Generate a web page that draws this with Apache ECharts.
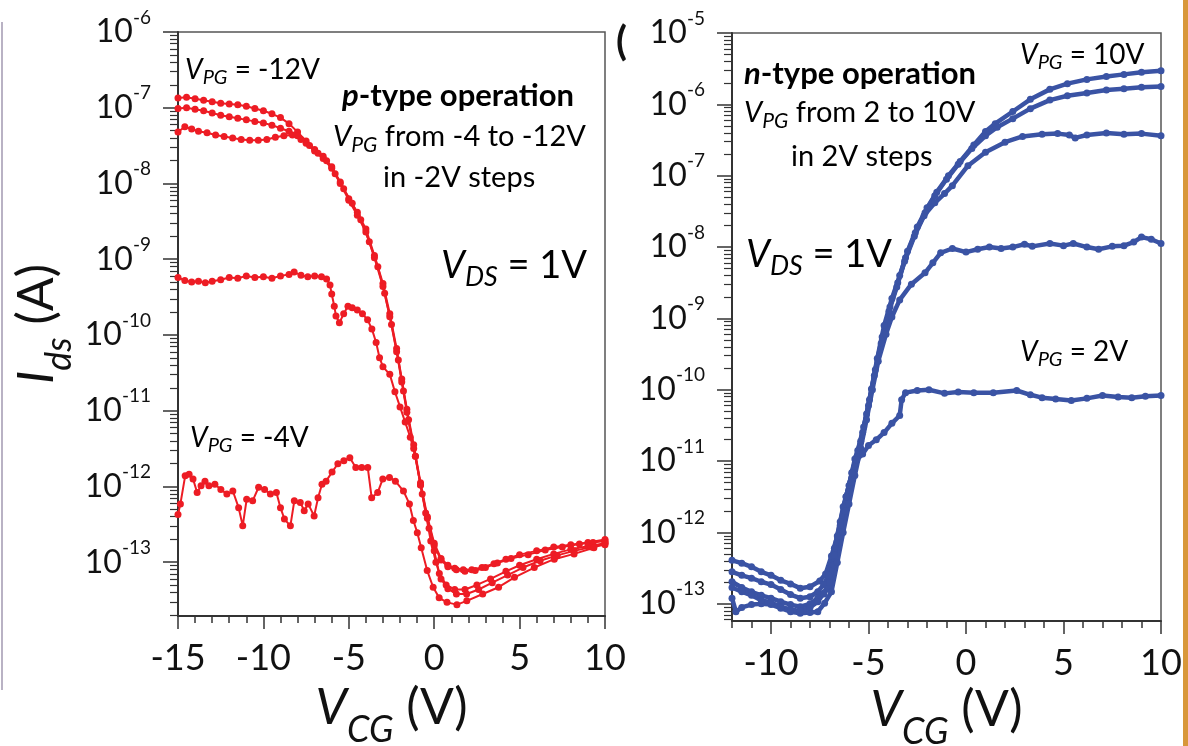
<!DOCTYPE html>
<html>
<head>
<meta charset="utf-8">
<title>Ids vs VCG</title>
<script src="https://cdn.jsdelivr.net/npm/echarts@6/dist/echarts.min.js"></script>
<style>
    html, body { margin: 0; padding: 0; background: #fff; }
    #chart { width: 1188px; height: 746px; }
</style>
</head>
<body>
<div id="chart"></div>
<script>
// each point: [V_CG (V), log10(Ids / A)]

// p-type panel, V_PG = -12 ... -4 V
const pVpgM12 = [[-15,-6.87],[-14.5,-6.86],[-14,-6.88],[-13.5,-6.9],[-13,-6.92],[-12.5,-6.94],[-12,-6.95],[-11.5,-6.96],[-11,-6.98],[-10.5,-7.01],[-10,-7.04],[-9.5,-7.08],[-9,-7.13],[-8.5,-7.21],[-8,-7.32],[-7.5,-7.44],[-7,-7.55],[-6.5,-7.64],[-6,-7.78],[-5.5,-7.98],[-5,-8.2],[-4.5,-8.38],[-4,-8.6],[-3.5,-8.95],[-3,-9.32],[-2.6,-9.72],[-2.2,-10.18],[-1.9,-10.58],[-1.6,-10.98],[-1.2,-11.45],[-0.8,-11.95],[-0.4,-12.4],[0,-12.75],[0.4,-12.95],[0.8,-13.04],[1.2,-13.08],[1.7,-13.1],[2.2,-13.1],[2.8,-13.07],[3.5,-13.02],[4.2,-12.96],[5,-12.9],[6,-12.85],[7,-12.8],[8,-12.77],[9,-12.74],[10,-12.7]]
const pVpgM10 = [[-15,-7.01],[-14.5,-7],[-14,-7.02],[-13.5,-7.04],[-13,-7.07],[-12.5,-7.1],[-12,-7.12],[-11.5,-7.14],[-11,-7.16],[-10.5,-7.18],[-10,-7.2],[-9.5,-7.23],[-9,-7.27],[-8.5,-7.31],[-8,-7.37],[-7.5,-7.47],[-7,-7.57],[-6.5,-7.67],[-6,-7.8],[-5.5,-8],[-5,-8.22],[-4.5,-8.42],[-4,-8.64],[-3.5,-8.98],[-3,-9.36],[-2.6,-9.76],[-2.2,-10.22],[-1.9,-10.62],[-1.6,-11.02],[-1.2,-11.5],[-0.8,-11.98],[-0.4,-12.42],[0,-12.78],[0.4,-12.97],[0.8,-13.06],[1.3,-13.1],[1.8,-13.12],[2.4,-13.11],[3,-13.07],[3.7,-13.01],[4.5,-12.95],[5.5,-12.9],[6.5,-12.84],[7.5,-12.8],[8.5,-12.76],[9.3,-12.74],[10,-12.72]]
const pVpgM8 = [[-15,-7.32],[-14.6,-7.25],[-14.2,-7.28],[-13.8,-7.31],[-13.3,-7.33],[-12.8,-7.36],[-12.3,-7.38],[-11.8,-7.4],[-11.3,-7.42],[-10.8,-7.43],[-10.3,-7.43],[-9.8,-7.42],[-9.3,-7.39],[-8.8,-7.37],[-8.3,-7.36],[-7.8,-7.42],[-7.3,-7.5],[-6.8,-7.6],[-6.3,-7.7],[-5.8,-7.87],[-5.3,-8.07],[-4.8,-8.26],[-4.3,-8.48],[-3.8,-8.77],[-3.3,-9.1],[-2.9,-9.45],[-2.5,-9.86],[-2.1,-10.33],[-1.8,-10.74],[-1.5,-11.12],[-1.1,-11.6],[-0.7,-12.1],[-0.3,-12.55],[0,-12.85],[0.3,-13.15],[0.7,-13.3],[1.2,-13.36],[1.8,-13.36],[2.5,-13.3],[3.3,-13.22],[4.2,-13.12],[5,-13.04],[6,-12.96],[7,-12.89],[8,-12.83],[9,-12.79],[10,-12.75]]
const pVpgM6 = [[-15,-9.24],[-14.6,-9.28],[-14.2,-9.3],[-13.8,-9.29],[-13.4,-9.31],[-13,-9.29],[-12.5,-9.27],[-12,-9.24],[-11.5,-9.25],[-11,-9.22],[-10.5,-9.24],[-10,-9.23],[-9.5,-9.25],[-9,-9.22],[-8.5,-9.2],[-8.2,-9.17],[-7.8,-9.21],[-7.4,-9.23],[-7,-9.22],[-6.6,-9.23],[-6.3,-9.26],[-6.1,-9.34],[-6,-9.46],[-5.85,-9.62],[-5.75,-9.75],[-5.55,-9.84],[-5.3,-9.72],[-5.05,-9.62],[-4.8,-9.64],[-4.5,-9.67],[-4.2,-9.72],[-3.9,-9.8],[-3.65,-9.92],[-3.4,-10.1],[-3.2,-10.3],[-3,-10.42],[-2.6,-10.52],[-2.3,-10.75],[-2,-10.95],[-1.7,-11.15],[-1.4,-11.35],[-1.1,-11.6],[-0.8,-11.98],[-0.5,-12.35],[-0.2,-12.72],[0.1,-13],[0.4,-13.22],[0.8,-13.35],[1.3,-13.42],[1.9,-13.42],[2.6,-13.36],[3.4,-13.27],[4.3,-13.17],[5.2,-13.07],[6.2,-12.98],[7.2,-12.91],[8.2,-12.85],[9.2,-12.8],[10,-12.77]]
const pVpgM4 = [[-15,-12.37],[-14.86,-12.23],[-14.58,-11.86],[-14.35,-11.84],[-14.12,-11.9],[-13.88,-12.08],[-13.65,-11.99],[-13.42,-11.93],[-13.19,-11.99],[-12.84,-11.97],[-12.49,-12.04],[-12.14,-12.1],[-11.79,-12.06],[-11.45,-12.28],[-11.21,-12.52],[-10.98,-12.17],[-10.63,-12.19],[-10.28,-12.01],[-9.93,-12.04],[-9.59,-12.1],[-9.24,-12.08],[-9,-12.28],[-8.77,-12.43],[-8.42,-12.52],[-8.19,-12.19],[-7.84,-12.21],[-7.61,-12.32],[-7.38,-12.23],[-7.03,-12.39],[-6.8,-12.15],[-6.57,-11.97],[-6.33,-11.93],[-5.98,-11.81],[-5.64,-11.7],[-5.29,-11.66],[-4.94,-11.62],[-4.59,-11.75],[-4.24,-11.75],[-3.89,-11.75],[-3.66,-12.15],[-3.31,-12.08],[-3.01,-11.9],[-2.62,-11.88],[-2.27,-11.93],[-1.8,-12.06],[-1.45,-12.23],[-1.22,-12.45],[-0.99,-12.61],[-0.76,-12.81],[-0.41,-13.11],[-0.06,-13.33],[0.29,-13.47],[0.75,-13.53],[1.33,-13.56],[1.91,-13.51],[2.84,-13.42],[3.77,-13.33],[4.7,-13.2],[5.86,-13.07],[7.03,-12.96],[8.19,-12.89],[9.35,-12.81],[10,-12.74]]

// n-type panel, V_PG = 10 ... 2 V
const nVpg10 = [[-12,-12.39],[-11.5,-12.43],[-11,-12.48],[-10.5,-12.55],[-10,-12.6],[-9.5,-12.67],[-9,-12.72],[-8.5,-12.78],[-8,-12.76],[-7.5,-12.68],[-7.2,-12.58],[-6.9,-12.33],[-6.6,-12.05],[-6.3,-11.64],[-6,-11.34],[-5.7,-10.97],[-5.4,-10.72],[-5.1,-10.34],[-4.85,-9.99],[-4.55,-9.56],[-4.2,-9.1],[-3.8,-8.72],[-3.4,-8.4],[-3,-8.06],[-2.5,-7.72],[-2,-7.45],[-1.5,-7.23],[-0.9,-7],[-0.3,-6.8],[0.4,-6.57],[1,-6.38],[1.5,-6.27],[2.4,-6.1],[3.3,-5.93],[4.3,-5.79],[5.2,-5.71],[6.2,-5.65],[7.2,-5.61],[8.1,-5.58],[9,-5.55],[10,-5.53]]
const nVpg8 = [[-12,-12.55],[-11.5,-12.6],[-11,-12.64],[-10.5,-12.69],[-10,-12.73],[-9.5,-12.8],[-9,-12.87],[-8.5,-12.92],[-8,-12.9],[-7.6,-12.83],[-7.3,-12.73],[-7.05,-12.6],[-6.75,-12.22],[-6.45,-11.85],[-6.15,-11.5],[-5.85,-11.16],[-5.55,-10.85],[-5.25,-10.52],[-4.95,-10.14],[-4.65,-9.72],[-4.3,-9.26],[-3.9,-8.84],[-3.5,-8.5],[-3.1,-8.15],[-2.6,-7.8],[-2.1,-7.52],[-1.6,-7.28],[-1,-7.05],[-0.4,-6.84],[0.3,-6.62],[1,-6.44],[1.6,-6.32],[2.4,-6.2],[3.3,-6.06],[4.3,-5.94],[5.2,-5.88],[6.2,-5.84],[7.2,-5.8],[8.1,-5.78],[9,-5.76],[10,-5.75]]
const nVpg6 = [[-12,-12.69],[-11.5,-12.77],[-11,-12.83],[-10.5,-12.88],[-10,-12.92],[-9.5,-12.97],[-9,-13.01],[-8.5,-13.04],[-8,-13],[-7.6,-12.92],[-7.3,-12.86],[-7.05,-12.78],[-6.8,-12.45],[-6.5,-12.05],[-6.2,-11.7],[-5.9,-11.3],[-5.6,-10.95],[-5.3,-10.6],[-5,-10.22],[-4.7,-9.8],[-4.35,-9.35],[-3.95,-8.9],[-3.55,-8.56],[-3.15,-8.2],[-2.65,-7.85],[-2.15,-7.56],[-1.6,-7.38],[-1.1,-7.25],[-0.7,-7.14],[0.1,-6.86],[1,-6.67],[2,-6.53],[2.9,-6.45],[3.9,-6.42],[4.7,-6.41],[5.3,-6.43],[5.6,-6.47],[6.2,-6.43],[7.2,-6.4],[8.1,-6.42],[9,-6.41],[10,-6.44]]
const nVpg4 = [[-12,-12.92],[-11.8,-13.11],[-11.5,-13.05],[-11,-13.01],[-10.5,-13],[-10,-13.01],[-9.5,-13.06],[-9,-13.11],[-8.5,-13.13],[-8,-13.12],[-7.6,-13.11],[-7.25,-12.99],[-6.9,-12.83],[-6.6,-12.42],[-6.3,-12],[-6,-11.6],[-5.7,-11.2],[-5.4,-10.82],[-5.1,-10.42],[-4.8,-10],[-4.5,-9.6],[-4.1,-9.22],[-3.8,-8.98],[-3.4,-8.74],[-2.8,-8.52],[-2.1,-8.36],[-1.7,-8.22],[-1.3,-8.08],[-0.7,-8.02],[0,-8.07],[0.6,-8.03],[1.2,-8],[1.8,-8.02],[2.4,-8],[3,-7.96],[3.4,-7.99],[4.3,-7.95],[5,-7.98],[5.5,-7.95],[6.2,-8],[6.8,-8.03],[7.5,-7.99],[8.1,-7.98],[8.6,-7.93],[9,-7.86],[9.5,-7.89],[10,-7.95]]
const nVpg2 = [[-12,-12.77],[-11.5,-12.83],[-11,-12.88],[-10.5,-12.95],[-10,-12.98],[-9.5,-13.04],[-9,-13.08],[-8.5,-13.1],[-8,-13.05],[-7.6,-12.97],[-7.3,-12.85],[-7,-12.7],[-6.75,-12.32],[-6.45,-11.9],[-6.15,-11.5],[-5.85,-11.17],[-5.6,-10.98],[-5.3,-10.9],[-5,-10.78],[-4.6,-10.7],[-4.2,-10.6],[-3.8,-10.47],[-3.4,-10.36],[-3.3,-10.14],[-3.1,-10.04],[-2.5,-10.01],[-1.9,-10],[-1.1,-10.05],[-0.4,-10.03],[0.4,-10.04],[1.4,-10.04],[2.6,-10.01],[3.3,-10.07],[3.9,-10.11],[4.6,-10.13],[5.4,-10.15],[6.2,-10.12],[7,-10.08],[7.8,-10.1],[8.5,-10.11],[9.2,-10.09],[10,-10.08]]

// axis ranges and tick labels (decade exponents / volts)
const pXRange = [-15, 10]
const pYRange = [-13.71, -6]
const nXRange = [-12, 10]
const nYRange = [-13.24, -5]
const pXTicks = [-15, -10, -5, 0, 5, 10]
const nXTicks = [-10, -5, 0, 5, 10]
const pYTicks = [-13, -12, -11, -10, -9, -8, -7, -6]
const nYTicks = [-13, -12, -11, -10, -9, -8, -7, -6, -5]

const FONT = 'Lato'
const RED = '#ed1c24'
const BLUE = '#3a53a4'
const AXIS = '#333'

// log-spaced minor ticks (2..9 x 10^n) inside a range of exponents
function logMinor(range) {
    const out = []
    for (let n = Math.floor(range[0]); n < range[1]; n++) {
        for (let k = 2; k <= 9; k++) {
            const v = n + Math.log10(k)
            if (v >= range[0] && v <= range[1]) out.push(v)
        }
    }
    return out
}
function linMinor(range) {
    const out = []
    for (let v = Math.ceil(range[0]); v <= range[1]; v++) out.push(v)
    return out
}

const decadeLabel = v => '{b|10}{s|' + Math.round(v) + '}'
const labelRich = {
    b: { fontFamily: FONT, fontSize: 32, lineHeight: 48, color: '#111', verticalAlign: 'middle' },
    s: { fontFamily: FONT, fontSize: 19, lineHeight: 20, color: '#111', verticalAlign: 'top' }
}
const nameRich = {
    v: { fontFamily: FONT, fontSize: 50, fontStyle: 'italic', lineHeight: 80, color: '#111', verticalAlign: 'middle' },
    s: { fontFamily: FONT, fontSize: 36, fontStyle: 'italic', lineHeight: 36, color: '#111', verticalAlign: 'bottom' },
    p: { fontFamily: FONT, fontSize: 50, lineHeight: 80, color: '#111', verticalAlign: 'middle' }
}

function xMajor(grid, range, ticks, gap) {
    return {
        type: 'value', gridIndex: grid, position: 'bottom', min: range[0], max: range[1],
        name: '{v|V}{s|CG}{p| (V)}', nameLocation: 'middle', nameGap: gap, nameMoveOverlap: false,
        nameTextStyle: { rich: nameRich },
        axisLine: { show: true, onZero: false, lineStyle: { color: AXIS, width: 2 } },
        axisTick: { show: true, length: 13, customValues: ticks, lineStyle: { color: AXIS, width: 1.5 } },
        axisLabel: { customValues: ticks, margin: 24, fontFamily: FONT, fontSize: 36, color: '#111' },
        splitLine: { show: false }
    }
}
function xMinor(grid, range) {
    return {
        type: 'value', gridIndex: grid, position: 'bottom', min: range[0], max: range[1],
        axisLine: { show: false, onZero: false },
        axisTick: { show: true, length: 7, customValues: linMinor(range), lineStyle: { color: AXIS, width: 1.5 } },
        axisLabel: { show: false },
        splitLine: { show: false }
    }
}
function yMajor(grid, range, ticks, withName) {
    const ax = {
        type: 'value', gridIndex: grid, position: 'left', min: range[0], max: range[1],
        axisLine: { show: true, onZero: false, lineStyle: { color: AXIS, width: 2 } },
        axisTick: { show: true, length: 15, customValues: ticks, lineStyle: { color: AXIS, width: 1.5 } },
        axisLabel: { customValues: ticks, margin: 27, formatter: decadeLabel, rich: labelRich },
        splitLine: { show: false }
    }
    if (withName) {
        ax.name = '{v|I}{s|ds}{p| (A)}'
        ax.nameLocation = 'middle'
        ax.nameGap = 101
        ax.nameMoveOverlap = false
        ax.nameTextStyle = { rich: nameRich }
    }
    return ax
}
function yMinor(grid, range) {
    return {
        type: 'value', gridIndex: grid, position: 'left', min: range[0], max: range[1],
        axisLine: { show: false, onZero: false },
        axisTick: { show: true, length: 8, customValues: logMinor(range), lineStyle: { color: AXIS, width: 1.2 } },
        axisLabel: { show: false },
        splitLine: { show: false }
    }
}

function curve(name, data, color, axisIndex, size, width) {
    return {
        name: name, type: 'line', xAxisIndex: axisIndex, yAxisIndex: axisIndex, data: data,
        symbol: 'circle', symbolSize: size, showSymbol: true, silent: true,
        lineStyle: { color: color, width: width },
        itemStyle: { color: color }
    }
}

// rich text notes inside the panels
const noteRich = fs => ({
    v: { fontFamily: FONT, fontSize: fs, fontStyle: 'italic', lineHeight: Math.round(fs * 1.3), color: '#111', verticalAlign: 'middle' },
    s: { fontFamily: FONT, fontSize: Math.round(fs * 0.72), fontStyle: 'italic', lineHeight: Math.round(fs * 0.72), color: '#111', verticalAlign: 'bottom' },
    n: { fontFamily: FONT, fontSize: fs, lineHeight: Math.round(fs * 1.3), color: '#111', verticalAlign: 'middle' },
    bi: { fontFamily: FONT, fontSize: fs, fontStyle: 'italic', fontWeight: 'bold', lineHeight: Math.round(fs * 1.3), color: '#111', verticalAlign: 'middle' },
    bn: { fontFamily: FONT, fontSize: fs, fontWeight: 'bold', lineHeight: Math.round(fs * 1.3), color: '#111', verticalAlign: 'middle' }
})
function note(x, y, text, fs) {
    return {
        type: 'text', x: x, y: y, z: 10, silent: true,
        style: { text: text, rich: noteRich(fs), align: 'left', verticalAlign: 'middle' }
    }
}

const chart = echarts.init(document.getElementById('chart'))
chart.setOption({
    animation: false,
    backgroundColor: '#fff',
    grid: [
        { left: 178, top: 32, width: 427, height: 584, show: true, borderColor: '#555', borderWidth: 1.5, containLabel: false, outerBoundsMode: 'none' },
        { left: 732, top: 33, width: 429, height: 588, show: true, borderColor: '#555', borderWidth: 1.5, containLabel: false, outerBoundsMode: 'none' }
    ],
    xAxis: [
        xMajor(0, pXRange, pXTicks, 52),
        xMinor(0, pXRange),
        xMajor(1, nXRange, nXTicks, 49),
        xMinor(1, nXRange)
    ],
    yAxis: [
        yMajor(0, pYRange, pYTicks, true),
        yMinor(0, pYRange),
        yMajor(1, nYRange, nYTicks, false),
        yMinor(1, nYRange)
    ],
    series: [
        curve('V_PG = -12V', pVpgM12, RED, 0, 7, 2),
        curve('V_PG = -10V', pVpgM10, RED, 0, 7, 2),
        curve('V_PG = -8V', pVpgM8, RED, 0, 7, 2),
        curve('V_PG = -6V', pVpgM6, RED, 0, 7, 2),
        curve('V_PG = -4V', pVpgM4, RED, 0, 7, 2),
        curve('V_PG = 10V', nVpg10, BLUE, 2, 7, 4.5),
        curve('V_PG = 8V', nVpg8, BLUE, 2, 7, 4.5),
        curve('V_PG = 6V', nVpg6, BLUE, 2, 7, 4.5),
        curve('V_PG = 4V', nVpg4, BLUE, 2, 7, 4.5),
        curve('V_PG = 2V', nVpg2, BLUE, 2, 7, 4.5)
    ],
    graphic: [
        // left panel notes
        note(185, 70, '{v|V}{s|PG}{n| = -12V}', 28),
        note(342, 96, '{bi|p}{bn|-type operation}', 31),
        note(333, 137, '{v|V}{s|PG}{n| from -4 to -12V}', 29),
        note(383, 178, '{n|in -2V steps}', 29),
        note(441, 266, '{v|V}{s|DS}{n| = 1V}', 38),
        note(190, 438, '{v|V}{s|PG}{n| = -4V}', 28),
        // right panel notes
        note(744, 74, '{bi|n}{bn|-type operation}', 31),
        note(744, 113, '{v|V}{s|PG}{n| from 2 to 10V}', 29),
        note(791, 157, '{n|in 2V steps}', 29),
        note(1020, 55, '{v|V}{s|PG}{n| = 10V}', 28),
        note(746, 255, '{v|V}{s|DS}{n| = 1V}', 38),
        note(1020, 352, '{v|V}{s|PG}{n| = 2V}', 28),
        // cropped panel letter and page edges
        { type: 'text', x: 616, y: 42, silent: true, style: { text: '(', fontFamily: FONT, fontSize: 40, fontWeight: 'bold', fill: '#111', verticalAlign: 'middle' } },
        { type: 'line', silent: true, shape: { x1: 2, y1: 22, x2: 2, y2: 690 }, style: { stroke: '#b9b2c4', lineWidth: 2 } },
        { type: 'rect', silent: true, shape: { x: 1183, y: 0, width: 5, height: 746 }, style: { fill: '#d8973a' } }
    ]
})
</script>
</body>
</html>
